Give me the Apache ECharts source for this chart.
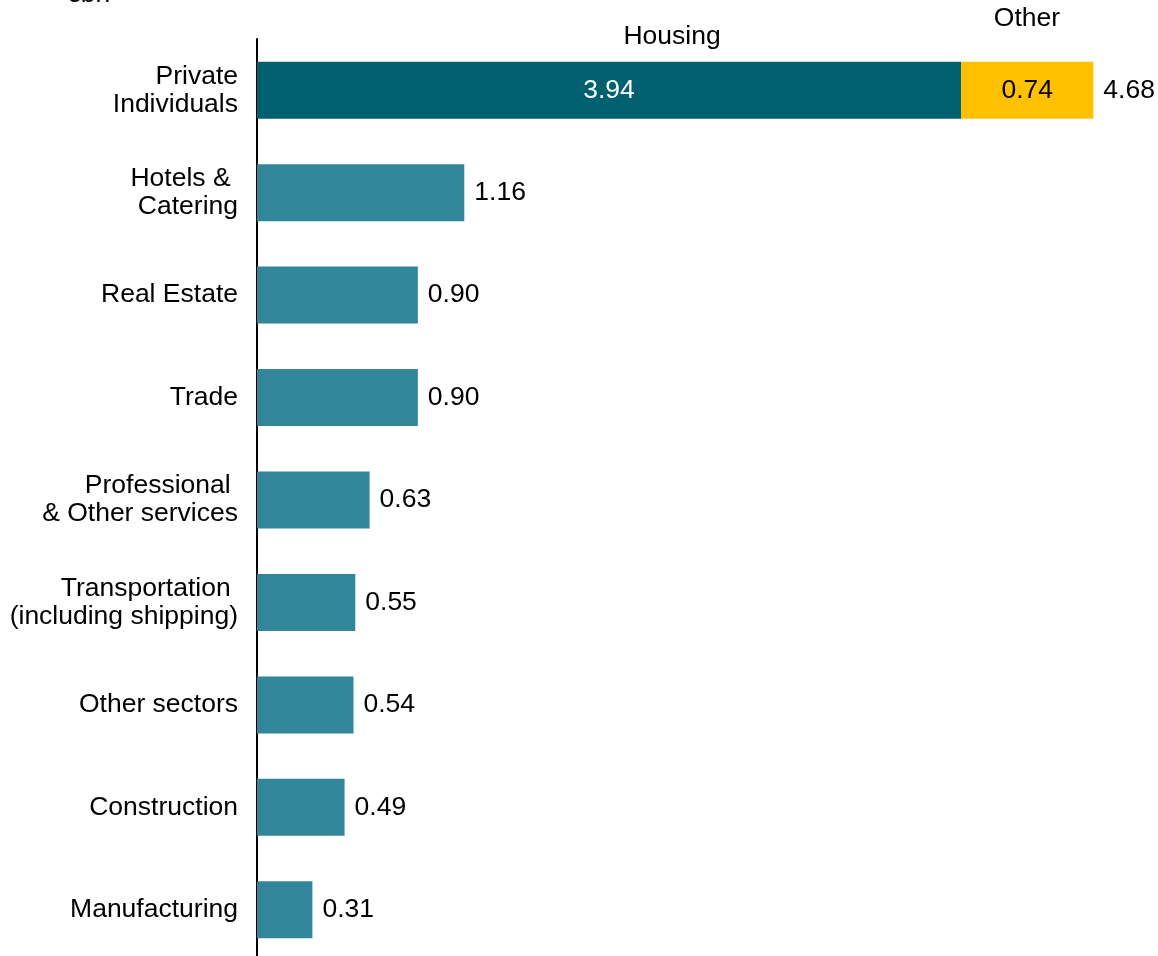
<!DOCTYPE html>
<html><head><meta charset="utf-8">
<script src="https://cdn.jsdelivr.net/npm/echarts@6/dist/echarts.min.js"></script>
<style>html,body{margin:0;padding:0;background:#fff}#c{width:1158px;height:956px}</style>
</head><body><div id="c"></div>
<script>
const categories = ["Private\nIndividuals","Hotels & \nCatering","Real Estate","Trade","Professional \n& Other services","Transportation \n(including shipping)","Other sectors","Construction","Manufacturing"];
const housing = [3.94, 1.16, 0.90, 0.90, 0.63, 0.55, 0.54, 0.49, 0.31];
const other = [0.74, null, null, null, null, null, null, null, null];
const totals = housing.map((v,i)=> +(v + (other[i]||0)).toFixed(2));
const unitLabel = "€bn";

const font = "Liberation Sans, Arial, sans-serif";
const fs = 26.5;
const chart = echarts.init(document.getElementById('c'));
chart.setOption({
  animation:false,
  textStyle:{fontFamily:font},
  grid:{left:257, top:39, width:893.5, height:922, containLabel:false, outerBoundsMode:'none'},
  xAxis:{type:'value', min:0, max:5, show:false, splitLine:{show:false}},
  yAxis:{type:'category', data:categories, inverse:true,
    axisLine:{show:true, lineStyle:{color:'#000', width:2}},
    axisTick:{show:false},
    axisLabel:{color:'#000', fontSize:fs, lineHeight:28, margin:19, align:'right', fontFamily:font, padding:[3,0,0,0]}},
  series:[
    {name:'Housing', type:'bar', stack:'s', barWidth:57,
     data: housing.map((v,i)=> i===0 ? {value:v, itemStyle:{color:'#00606F'}, label:{position:'inside', color:'#fff', formatter:v.toFixed(2)}} : {value:v}),
     itemStyle:{color:'#31869B'},
     label:{show:true, position:'right', distance:10, color:'#000', fontSize:fs, fontFamily:font, padding:[3,0,0,0], formatter:p=>p.value.toFixed(2)}},
    {name:'Other', type:'bar', stack:'s', barWidth:57,
     data: other,
     itemStyle:{color:'#FFC000'},
     label:{show:true, position:'inside', color:'#000', fontSize:fs, fontFamily:font, padding:[3,0,0,0], formatter:p=>p.value==null?'':p.value.toFixed(2)}},
    {name:'Total', type:'bar', barWidth:57, barGap:'-100%', silent:true,
     data: totals.map((v,i)=> other[i]!=null ? v : null),
     itemStyle:{color:'rgba(0,0,0,0)'},
     label:{show:true, position:'right', distance:10, color:'#000', fontSize:fs, fontFamily:font, padding:[3,0,0,0], formatter:p=>p.value==null?'':p.value.toFixed(2)}}
  ],
  graphic:[
    {type:'text', x:672, y:23, style:{text:'Housing', fill:'#000', font:fs+'px '+font, textAlign:'center', textVerticalAlign:'top'}},
    {type:'text', x:1027, y:5, style:{text:'Other', fill:'#000', font:fs+'px '+font, textAlign:'center', textVerticalAlign:'top'}},
    {type:'text', x:66, y:-19, style:{text:unitLabel, fill:'#000', font:fs+'px '+font, textVerticalAlign:'top'}}
  ]
});
</script></body></html>
